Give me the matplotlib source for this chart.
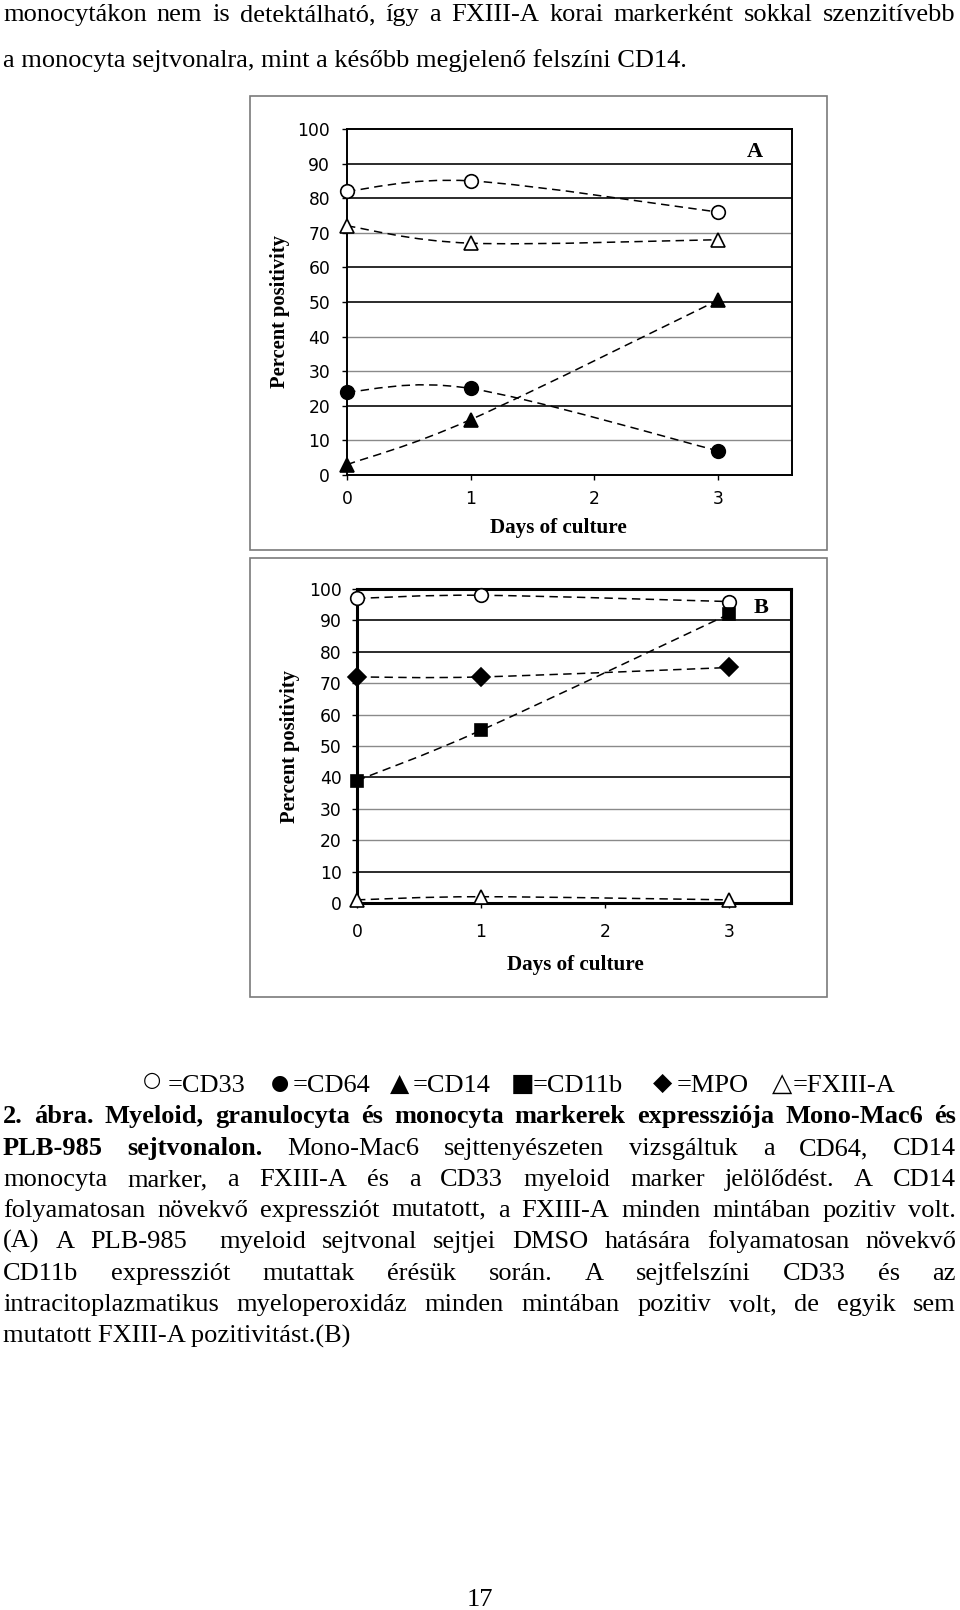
import matplotlib
matplotlib.use('Agg')
import matplotlib.pyplot as plt
from matplotlib.path import Path
from matplotlib.patches import PathPatch, Rectangle

# ---------------- data ----------------
days = [0, 1, 3]
x_ticks = [0, 1, 2, 3]
y_ticks = [0, 10, 20, 30, 40, 50, 60, 70, 80, 90, 100]

# Panel A (Mono-Mac6)
a_cd33 = [82, 85, 76]
a_fxiii = [72, 67, 68]
a_cd14 = [3, 16, 50.5]
a_cd64 = [24, 25, 7]

# Panel B (PLB-985)
b_cd33 = [97, 98, 96]
b_cd11b = [39, 55, 92]
b_mpo = [72, 72, 75]
b_fxiii = [1, 2, 1]

x_label = "Days of culture"
y_label = "Percent positivity"

top_line1 = "monocytákon nem is detektálható, így a FXIII-A korai markerként sokkal szenzitívebb"
top_line2 = "a monocyta sejtvonalra, mint a később megjelenő felszíni CD14."

legend_symbols = ["○", "●", "▲", "■", "◆", "△"]
legend_names = ["=CD33", "=CD64", "=CD14", "=CD11b", "=MPO", "=FXIII-A"]

cap_bold1 = "2. ábra. Myeloid, granulocyta és monocyta markerek expressziója Mono-Mac6 és"
cap_bold2 = "PLB-985 sejtvonalon."
cap_rest2 = "Mono-Mac6 sejttenyészeten vizsgáltuk a CD64, CD14"
cap_lines = [
    "monocyta marker, a FXIII-A és a CD33 myeloid marker jelölődést. A CD14",
    "folyamatosan növekvő expressziót mutatott, a FXIII-A minden mintában pozitiv volt.",
    "(A) A PLB-985  myeloid sejtvonal sejtjei DMSO hatására folyamatosan növekvő",
    "CD11b expressziót mutattak érésük során. A sejtfelszíni CD33 és az",
    "intracitoplazmatikus myeloperoxidáz minden mintában pozitiv volt, de egyik sem",
]
cap_last = "mutatott FXIII-A pozitivitást.(B)"
page_no = "17"

# ---------------- setup ----------------
W, H = 960, 1610
fig = plt.figure(figsize=(W / 100, H / 100), dpi=100)
fig.patch.set_facecolor('white')
renderer = fig.canvas.get_renderer()

SERIF = ['Liberation Serif', 'DejaVu Serif']
SANS = ['DejaVu Sans']
FS = 19


def fx(x):
    return x / W


def fy(y):
    return 1 - y / H


def smooth_path(xs, ys):
    P = list(zip(xs, ys))
    n = len(P)
    verts = [P[0]]
    codes = [Path.MOVETO]
    for i in range(n - 1):
        p0 = P[i - 1] if i > 0 else P[i]
        p1 = P[i]
        p2 = P[i + 1]
        p3 = P[i + 2] if i + 2 < n else P[i + 1]
        c1 = (p1[0] + (p2[0] - p0[0]) / 6, p1[1] + (p2[1] - p0[1]) / 6)
        c2 = (p2[0] - (p3[0] - p1[0]) / 6, p2[1] - (p3[1] - p1[1]) / 6)
        verts += [c1, c2, p2]
        codes += [Path.CURVE4] * 3
    return Path(verts, codes)


def setup_axes(rect_px, xmax, frame_lw, dark_levels, xpad, ypad):
    l, t, r, b = rect_px
    ax = fig.add_axes([fx(l), fy(b), (r - l) / W, (b - t) / H])
    ax.set_xlim(0, xmax)
    ax.set_ylim(0, 100)
    ax.set_xticks(x_ticks)
    ax.set_yticks(y_ticks)
    for lv in y_ticks[1:-1]:
        dark = lv in dark_levels
        ax.axhline(lv, color='#1a1a1a' if dark else '#8a8a8a',
                   lw=1.3 if dark else 1.0, zorder=1)
    for s in ax.spines.values():
        s.set_linewidth(frame_lw)
        s.set_color('black')
    ax.tick_params(direction='out', length=3.6, width=1.0, labelsize=12.3,
                   colors='black')
    ax.tick_params(axis='x', pad=xpad)
    ax.tick_params(axis='y', pad=ypad)
    for lab in ax.get_xticklabels() + ax.get_yticklabels():
        lab.set_fontfamily(SANS)
    return ax


def plot_series(ax, ys, marker, filled, ms):
    patch = PathPatch(smooth_path(days, ys), fill=False, edgecolor='black',
                      lw=1.1, linestyle=(0, (5.5, 3.5)), zorder=2, clip_on=False)
    ax.add_patch(patch)
    ax.plot(days, ys, linestyle='none', marker=marker, ms=ms,
            mfc='black' if filled else 'white', mec='black', mew=1.2,
            zorder=4, clip_on=False)


# outer boxes
for (l, t, r, b) in [(250, 96, 827, 550), (250, 557.5, 827, 997)]:
    fig.patches.append(Rectangle((fx(l), fy(b)), (r - l) / W, (b - t) / H,
                                 transform=fig.transFigure, fill=False,
                                 edgecolor='#7a7a7a', lw=1.2))

# ---- Panel A ----
axA = setup_axes((347, 129, 792, 475), 3.6, 1.4, {20, 50, 60, 80, 90}, 7.5, 8.5)
plot_series(axA, a_cd33, 'o', False, 9.8)
plot_series(axA, a_fxiii, '^', False, 10.5)
plot_series(axA, a_cd14, '^', True, 9.5)
plot_series(axA, a_cd64, 'o', True, 9.8)
fig.text(fx(755), fy(152), "A", fontsize=16, family=SERIF, weight='bold',
         ha='center', va='center')
fig.text(fx(280), fy(312), y_label, fontsize=14.8, family=SERIF, weight='bold',
         rotation=90, ha='center', va='center')
fig.text(fx(558), fy(527.5), x_label, fontsize=15.2, family=SERIF, weight='bold',
         ha='center', va='center')

# ---- Panel B ----
axB = setup_axes((357, 589, 791, 903), 3.5, 2.2, {10, 40, 80, 90}, 10.5, 7.5)
plot_series(axB, b_cd33, 'o', False, 9.8)
plot_series(axB, b_cd11b, 's', True, 9)
plot_series(axB, b_mpo, 'D', True, 9.3)
plot_series(axB, b_fxiii, '^', False, 10.5)
fig.text(fx(761), fy(608), "B", fontsize=16, family=SERIF, weight='bold',
         ha='center', va='center')
fig.text(fx(289.5), fy(747), y_label, fontsize=14.8, family=SERIF, weight='bold',
         rotation=90, ha='center', va='center')
fig.text(fx(575), fy(965), x_label, fontsize=15.2, family=SERIF, weight='bold',
         ha='center', va='center')


# ---------------- page text ----------------
def text_width(s, weight, size):
    if s == '':
        return 0.0
    t = fig.text(0, 0, s, fontsize=size, family=SERIF, weight=weight)
    w = t.get_window_extent(renderer).width
    t.remove()
    return w


def words_of(s, weight='normal'):
    return [(w, weight) for w in s.split(' ')]


def justified(words, y_center, left=3, right=956, size=FS):
    while True:
        widths = [text_width(w, wt, size) for w, wt in words]
        gap = (right - left - sum(widths)) / (len(words) - 1)
        if gap >= 4 or size < 12:
            break
        size -= 0.25
    x = left
    base = y_center + 7
    for (w, wt), wd in zip(words, widths):
        if w:
            fig.text(fx(x), fy(base), w, fontsize=size, family=SERIF, weight=wt,
                     ha='left', va='baseline')
        x += wd + gap


def left_line(s, y_center, left=3, weight='normal'):
    fig.text(fx(left), fy(y_center + 7), s, fontsize=FS, family=SERIF,
             weight=weight, ha='left', va='baseline')


justified(words_of(top_line1), 14, right=955)
left_line(top_line2, 60)

# legend line
sym_x = [152, 280, 400, 523, 663, 782]
sym_y = [1080, 1083, 1084, 1084, 1083, 1084]
sym_size = [15, 15, 18, 18, 18, 19]
name_x = [168, 293, 413, 533, 677, 793]
for s, sx, sy, ss, nm, nx in zip(legend_symbols, sym_x, sym_y, sym_size,
                                  legend_names, name_x):
    fig.text(fx(sx), fy(sy), s, fontsize=ss, family=SANS, ha='center',
             va='center')
    fig.text(fx(nx), fy(1092), nm, fontsize=FS, family=SERIF, ha='left',
             va='baseline')

cap_y = [1116, 1148, 1179, 1209.5, 1241, 1273, 1304]
justified(words_of(cap_bold1, 'bold'), cap_y[0])
justified(words_of(cap_bold2, 'bold') + words_of(cap_rest2), cap_y[1])
for line, yc in zip(cap_lines, cap_y[2:]):
    justified(words_of(line), yc)
left_line(cap_last, 1336)

fig.text(fx(479.5), fy(1606), page_no, fontsize=FS, family=SERIF,
         ha='center', va='baseline')

fig.savefig('out.png', dpi=100, facecolor='white')
